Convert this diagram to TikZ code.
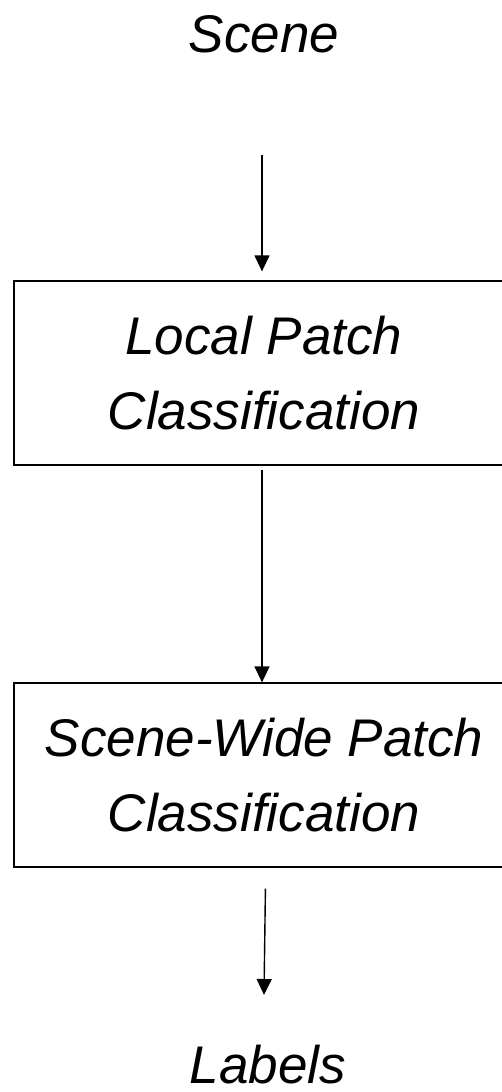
\documentclass[tikz,border=0pt]{standalone}
\usepackage{fontspec}
\setmainfont{Liberation Sans}
\usetikzlibrary{arrows.meta}
\begin{document}
\begin{tikzpicture}[x=1pt,y=-1pt,
  endtext/.style={font=\fontsize{53}{75}\selectfont\itshape, inner sep=0pt},
  stage/.style={draw, line width=1.3pt, minimum width=500pt, minimum height=184pt,
    align=center, inner sep=0pt, font=\fontsize{53}{75}\selectfont\itshape},
  flow/.style={line width=1.4pt, -{Triangle[length=16pt,width=15pt]}}]
\useasboundingbox (0,0) rectangle (502,1092);

% input and output labels
\node[endtext, anchor=base] (scene) at (264,52) {Scene};
\node[endtext, anchor=base] (labels) at (268,1083) {Labels};

% processing stages
\node[stage] (local) at (264,373) {Local Patch\\Classification};
\node[stage] (wide) at (264,775) {Scene-Wide Patch\\Classification};

% flow between stages
\coordinate (in) at (262,155);
\coordinate (outtip) at (264,995);
\draw[flow, shorten >=9pt] (in) -- ([xshift=-2pt]local.north);
\draw[flow, shorten <=4pt] ([xshift=-2pt]local.south) -- ([xshift=-2pt]wide.north);
\draw[flow, shorten <=21pt] ([xshift=1.7pt]wide.south) -- (outtip);
\end{tikzpicture}
\end{document}
